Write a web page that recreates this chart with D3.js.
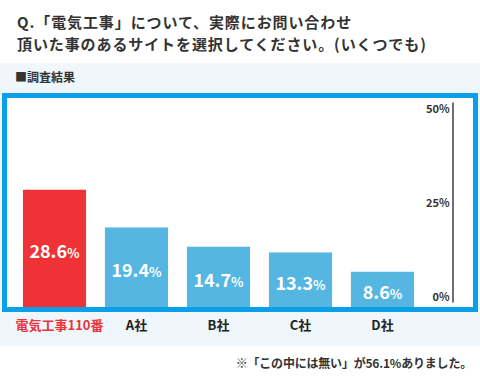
<!DOCTYPE html>
<html>
<head>
<meta charset="utf-8">
<script src="https://cdn.jsdelivr.net/npm/d3@7"></script>
<style>
  body { margin: 0; background: #fff; }
  svg { display: block; font-family: "Noto Sans CJK JP", "Noto Sans", sans-serif; }
</style>
</head>
<body>
<div id="chart"></div>
<script>
// データ
const categories = ["電気工事110番", "A社", "B社", "C社", "D社"];
const values = [28.6, 19.4, 14.7, 13.3, 8.6];
const axisTicks = [0, 25, 50];
const titleLines = ["Q.「電気工事」について、実際にお問い合わせ", "頂いた事のあるサイトを選択してください。(いくつでも)"];
const note = "※「この中には無い」が56.1%ありました。";

const W = 480, H = 376;
const svg = d3.select("#chart").append("svg")
    .attr("width", W)
    .attr("height", H);

// タイトル
svg.selectAll(".title")
    .data(titleLines)
    .enter()
    .append("text")
    .attr("class", "title")
    .attr("x", 17)
    .attr("y", (d, i) => 28 + i * 22)
    .attr("fill", "#333")
    .attr("font-size", "15px")
    .attr("letter-spacing", "0.9px")
    .attr("font-weight", "bold")
    .text(d => d);

// 薄い青の背景
svg.append("rect")
    .attr("x", 0).attr("y", 63)
    .attr("width", W).attr("height", 283)
    .attr("fill", "#eff7fd");

svg.append("text")
    .attr("x", 15).attr("y", 82)
    .attr("fill", "#333")
    .attr("font-size", "12px")
    .attr("font-weight", "bold")
    .text("■調査結果");

// 青枠
svg.append("rect")
    .attr("x", 4.5).attr("y", 95.5)
    .attr("width", 471).attr("height", 214)
    .attr("fill", "#fff")
    .attr("stroke", "#0aa0e8")
    .attr("stroke-width", 5);

const x = d3.scaleBand()
    .domain(categories)
    .range([23 - 9.5, 23 - 9.5 + 82 * 5])
    .paddingInner(0.23)
    .paddingOuter(0.115);

const y = d3.scaleLinear()
    .domain([0, 50])
    .range([307, 102]);

// 軸 (右側)
const yAxis = d3.scaleLinear()
    .domain([0, 50])
    .range([302, 102]);

const axis = svg.append("g")
    .attr("transform", "translate(452.5,0)")
    .call(d3.axisLeft(yAxis).tickValues(axisTicks).tickSize(0).tickPadding(3).tickFormat(d => d + "%"));
axis.select(".domain").attr("stroke", "#222").attr("stroke-width", 1.3);
axis.selectAll(".tick text")
    .attr("fill", "#333")
    .attr("font-size", "11px")
    .attr("font-weight", "bold")
    .attr("font-family", "'Noto Sans CJK JP', sans-serif")
    .attr("dy", d => d === 50 ? "0.95em" : d === 0 ? "-0.1em" : "0.4em");

// 棒
svg.selectAll(".bar")
    .data(values)
    .enter()
    .append("rect")
    .attr("class", "bar")
    .attr("x", (d, i) => x(categories[i]))
    .attr("y", d => y(d))
    .attr("width", x.bandwidth())
    .attr("height", d => y(0) - y(d))
    .attr("fill", (d, i) => i === 0 ? "#ef3236" : "#55b6e2");

// 値ラベル
const labels = svg.selectAll(".val")
    .data(values)
    .enter()
    .append("text")
    .attr("class", "val")
    .attr("x", (d, i) => x(categories[i]) + x.bandwidth() / 2)
    .attr("y", d => (y(d) + y(0)) / 2 + 10)
    .attr("text-anchor", "middle")
    .attr("fill", "#fff")
    .attr("font-weight", "bold");
labels.append("tspan").attr("font-size", "18px").text(d => d.toFixed(1));
labels.append("tspan").attr("font-size", "13px").text("%");

// カテゴリラベル
svg.selectAll(".cat")
    .data(categories)
    .enter()
    .append("text")
    .attr("class", "cat")
    .attr("x", (d, i) => x(d) + x.bandwidth() / 2 + (i === 0 ? 5 : 0))
    .attr("y", 330)
    .attr("text-anchor", "middle")
    .attr("font-size", "13px")
    .attr("font-weight", "bold")
    .attr("fill", (d, i) => i === 0 ? "#e8333a" : "#222")
    .text(d => d);

// 注記
svg.append("text")
    .attr("x", 472).attr("y", 368)
    .attr("text-anchor", "end")
    .attr("font-size", "12px")
    .attr("letter-spacing", "-0.2px")
    .attr("font-weight", "bold")
    .attr("fill", "#333")
    .text(note);
</script>
</body>
</html>
